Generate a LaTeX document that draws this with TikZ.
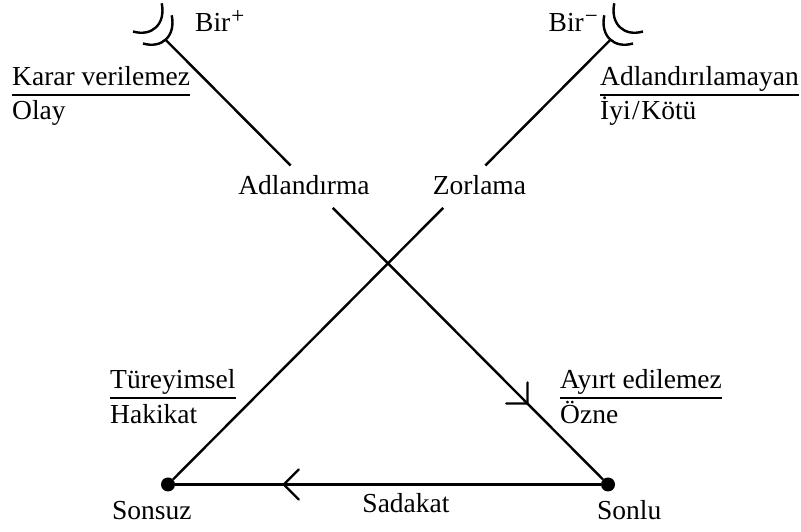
\documentclass[tikz,border=0pt]{standalone}
\usepackage{fontspec}
\setmainfont{Liberation Serif}
\usetikzlibrary{decorations.markings}

\newcommand{\supsign}[1]{\raisebox{8pt}{\fontsize{23}{23}\selectfont #1}}

\tikzset{
  lbl/.style={inner sep=0pt, font=\fontsize{27.5}{33}\selectfont},
  wire/.style={line width=2.4pt},
  ul/.style={line width=1.3pt},
  dotnode/.style={circle, fill=black, inner sep=0pt, minimum size=14pt},
  barb at/.style={postaction={decorate}, decoration={markings,
      mark=at position #1 with {\draw[line width=2.2pt, line cap=round]
        (-15pt,15pt) -- (0,0) -- (-15pt,-15pt);}}}
}

\begin{document}
\begin{tikzpicture}[x=1pt, y=1pt]
\useasboundingbox (0,0) rectangle (801,532);

% end points of the two diagonals
\node[dotnode] (sonsuz) at (168,47.5) {};
\node[dotnode] (sonlu)  at (608,47.5) {};
\coordinate (tipL) at (165,492.8);
\coordinate (tipR) at (611,492.8);

% crescents at the upper ends
\draw[wire] (161.7,528.7) .. controls (166,508) and (152,495) .. (133,500.5);
\draw[wire] (171.7,516.7) .. controls (176,496) and (162,483) .. (143,488.5);
\draw[wire] (614.3,528.7) .. controls (610,508) and (624,495) .. (643,500.5);
\draw[wire] (604.3,516.7) .. controls (600,496) and (614,483) .. (633,488.5);

% gaps left for the middle labels
\path (tipL) -- (sonlu) coordinate[pos=0.287] (gL1) coordinate[pos=0.383] (gL2);
\path (tipR) -- (sonsuz) coordinate[pos=0.287] (gR1) coordinate[pos=0.383] (gR2);

\draw[wire] (tipL) -- (gL1);
\draw[wire, barb at=0.721] (gL2) -- (sonlu);
\draw[wire] (tipR) -- (gR1);
\draw[wire] (gR2) -- (sonsuz);
\draw[wire, barb at=0.745] (sonlu) -- (sonsuz);

% labels
\node[lbl, anchor=base west] (birp) at (195,500) {Bir\kern1pt\supsign{+}};
\node[lbl, anchor=base east] (birm) at (598,500) {Bir\kern1pt\supsign{−}};

\node[lbl, anchor=base west] (kv) at (12,446) {Karar verilemez};
\node[lbl, anchor=base west] (olay) at (12,412) {Olay};
\draw[ul] ([yshift=-9pt]kv.base west) -- ([yshift=-9pt]kv.base east);

\node[lbl, anchor=base west] (adla) at (600,446) {Adlandırılamayan};
\node[lbl, anchor=base west] (iyi) at (600,412) {İyi\kern1.5pt/\kern1.5pt Kötü};
\draw[ul] ([yshift=-9pt]adla.base west) -- ([yshift=-9pt]adla.base east);

\node[lbl, anchor=base] (adl) at (304,337) {Adlandırma};
\node[lbl, anchor=base] (zor) at (479.5,337) {Zorlama};

\node[lbl, anchor=base west] (tur) at (110,143) {Türeyimsel};
\node[lbl, anchor=base west] (hak) at (110,108) {Hakikat};
\draw[ul] ([yshift=-9pt]tur.base west) -- ([yshift=-9pt]tur.base east);

\node[lbl, anchor=base west] (ayi) at (560,143) {Ayırt edilemez};
\node[lbl, anchor=base west] (ozn) at (560,108) {Özne};
\draw[ul] ([yshift=-9pt]ayi.base west) -- ([yshift=-9pt]ayi.base east);

\node[lbl, anchor=base west] (sonsuzl) at (112,12) {Sonsuz};
\node[lbl, anchor=base west] (sonlul) at (597,12) {Sonlu};
\node[lbl, anchor=base] (sad) at (406,19) {Sadakat};
\end{tikzpicture}
\end{document}
